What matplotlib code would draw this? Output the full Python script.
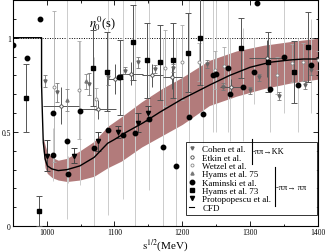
import matplotlib
matplotlib.use("Agg")
import matplotlib.pyplot as plt
from matplotlib.lines import Line2D
import numpy as np

plt.rcParams['font.family'] = ['Liberation Serif', 'DejaVu Serif']
plt.rcParams['mathtext.fontset'] = 'stix'

# ---------------- data ----------------
# CFD curve and band
cfd_x = [950, 992.5, 992.5, 993.5, 995, 997.7, 1001, 1007.6, 1017, 1030, 1049, 1070, 1090, 1100,
         1118, 1143, 1167, 1200, 1222, 1241, 1270, 1300, 1330, 1359, 1379, 1400]
cfd_y = [1.0, 1.0, 0.75, 0.62, 0.445, 0.357, 0.32, 0.304, 0.295, 0.30, 0.32, 0.365, 0.44, 0.46,
         0.50, 0.55, 0.605, 0.675, 0.715, 0.75, 0.80, 0.843, 0.87, 0.882, 0.887, 0.887]
band_x = [995, 997.7, 1001, 1008, 1017, 1030, 1049, 1070, 1090, 1110, 1140, 1170, 1200, 1240,
          1280, 1320, 1360, 1400]
band_lo = [0.40, 0.31, 0.28, 0.258, 0.245, 0.237, 0.245, 0.265, 0.31, 0.345, 0.42, 0.48, 0.54,
           0.64, 0.69, 0.73, 0.76, 0.78]
band_hi = [0.47, 0.43, 0.39, 0.365, 0.35, 0.36, 0.40, 0.45, 0.53, 0.58, 0.66, 0.73, 0.79,
           0.88, 0.93, 0.96, 0.98, 0.997]

# Kaminski et al. (value, lower bound, upper bound)
kam_x = [950, 971, 990, 1009, 1010, 1030, 1031, 1049, 1070, 1090, 1107, 1112, 1131, 1151, 1171,
         1191, 1210, 1230, 1246, 1250, 1267, 1271, 1290, 1306, 1310, 1330, 1350, 1371, 1390]
kam_y = [0.96, 0.89, 1.10, 0.38, 0.60, 0.45, 0.275, 0.61, 0.415, 0.51, 0.79, 0.486, 0.495, 0.57,
         0.42, 0.32, 0.58, 0.595, 0.80, 0.81, 0.84, 0.70, 0.737, 0.817, 1.185, 0.73, 0.895, 0.75, 0.857]
kam_lo = [0.96, 0.89, 1.10, 0.24, 0.60, 0.04, 0.23, 0.22, 0.0, 0.06, 0.79, 0.145, 0.0, 0.19,
          0.0, 0.0, 0.2, 0.3, 0.5, 0.5, 0.5, 0.45, 0.45, 0.65, 1.185, 0.5, 0.6, 0.5, 0.6]
kam_hi = [0.96, 0.89, 1.10, 0.52, 0.60, 1.2, 0.375, 0.98, 0.9, 1.2, 0.79, 1.2, 1.2, 1.2,
          1.0, 1.0, 1.2, 1.2, 1.2, 1.2, 1.2, 1.0, 1.05, 1.0, 1.185, 1.0, 1.2, 1.0, 1.1]

# Hyams et al. 73
h73_x = [970, 989, 1069, 1089, 1108, 1128, 1148, 1167, 1187, 1208, 1226, 1286, 1326, 1365, 1385]
h73_y = [0.68, 0.08, 0.84, 0.82, 0.79, 0.976, 0.88, 0.87, 0.88, 0.92, 1.0, 0.946, 0.87, 0.82, 0.95]
h73_e = [0.18, 0.08, 0.20, 0.21, 0.20, 0.20, 0.20, 0.20, 0.20, 0.21, 0.25, 0.16, 0.16, 0.165, 0.185]

# Protopopescu et al.
pro_x = [1000, 1041, 1075, 1105, 1135, 1150]
pro_y = [0.375, 0.375, 0.45, 0.50, 0.55, 0.60]
pro_e = [0.08, 0.04, 0.05, 0.03, 0.05, 0.04]

# Cohen et al.
coh_x = [998, 1016, 1062, 1090, 1116, 1135, 1160, 1186, 1237, 1260, 1300, 1313, 1342, 1381, 1390]
coh_y = [0.77, 0.71, 0.755, 0.79, 0.825, 0.87, 0.835, 0.84, 0.86, 0.74, 0.72, 0.79, 0.69, 0.75, 0.83]
coh_e = [0.03, 0.05, 0.06, 0.04, 0.02, 0.03, 0.02, 0.02, 0.02, 0.02, 0.02, 0.02, 0.02, 0.02, 0.03]

# Etkin et al. (with energy bins)
etk_x = [1021, 1076, 1101, 1125, 1156, 1185, 1272, 1325]
etk_y = [0.64, 0.62, 0.78, 0.81, 0.80, 0.79, 0.74, 0.89]
etk_xe = [26, 27, 12, 17, 15, 14, 17, 27]
etk_e = [0.10, 0.05, 0.08, 0.06, 0.06, 0.06, 0.04, 0.10]

# Wetzel et al.
wet_x = [1011, 1048, 1073, 1174, 1199, 1224, 1249, 1262, 1340, 1362, 1378, 1400]
wet_y = [0.74, 0.72, 0.675, 0.84, 0.87, 0.87, 0.83, 0.85, 0.80, 0.865, 0.87, 0.88]
wet_e = [0.40, 0.26, 0.06, 0.20, 0.20, 0.10, 0.10, 0.10, 0.10, 0.10, 0.10, 0.05]

# Hyams et al. 75
h75_x = [1030, 1058]
h75_y = [0.67, 0.77]
h75_e = [0.06, 0.04]

legend_labels = ['Cohen et al.', 'Etkin et al.', 'Wetzel et al.', 'Hyams et al. 75',
                 'Kaminski et al.', 'Hyams et al. 73', 'Protopopescu et al.', 'CFD']

# ---------------- figure ----------------
fig = plt.figure(figsize=(3.27, 2.53), dpi=100)
ax = fig.add_axes([0.039, 0.102, 0.933, 0.894])

band_color = '#b27b7b'
ax.fill_between(band_x, band_lo, band_hi, color=band_color, lw=0, zorder=1)
ax.axhline(1.0, color='black', lw=0.7, ls=(0, (1, 1.5)), zorder=2)

kx = np.array(kam_x); ky = np.array(kam_y)
ax.errorbar(kx, ky, yerr=[ky - np.array(kam_lo), np.array(kam_hi) - ky], fmt='none',
            ecolor='#cccccc', elinewidth=0.7, zorder=2)
ax.errorbar(wet_x, wet_y, yerr=wet_e, fmt='none', ecolor='#aaaaaa', elinewidth=0.6,
            capsize=1.5, capthick=0.6, zorder=3)
ax.errorbar(h73_x, h73_y, yerr=h73_e, fmt='none', ecolor='#555555', elinewidth=0.7,
            capsize=2, capthick=0.7, zorder=3)
ax.errorbar(etk_x, etk_y, xerr=etk_xe, yerr=etk_e, fmt='none', ecolor='#555555', elinewidth=0.7,
            capsize=0, zorder=3)
ax.errorbar(coh_x, coh_y, yerr=coh_e, fmt='none', ecolor='#777777', elinewidth=0.6,
            capsize=1.5, capthick=0.6, zorder=3)
ax.errorbar(pro_x, pro_y, yerr=pro_e, fmt='none', ecolor='#444444', elinewidth=0.7,
            capsize=2, capthick=0.7, zorder=3)
ax.errorbar(h75_x, h75_y, yerr=h75_e, fmt='none', ecolor='#888888', elinewidth=0.6,
            capsize=1.5, capthick=0.6, zorder=3)

ax.plot(cfd_x, cfd_y, color='black', lw=1.0, zorder=4)

ax.plot(coh_x, coh_y, 'v', color='#666666', ms=2.2, zorder=5)
ax.plot(etk_x, etk_y, 'o', mfc='white', mec='#444444', mew=0.6, ms=2.4, zorder=5)
ax.plot(wet_x, wet_y, 'o', mfc='white', mec='#888888', mew=0.6, ms=2.2, zorder=5)
ax.plot(h75_x, h75_y, '^', color='#777777', ms=2.2, zorder=5)
ax.plot(kam_x, kam_y, 'o', color='black', ms=3.2, zorder=6)
ax.plot(h73_x, h73_y, 's', color='black', ms=3.0, zorder=6)
ax.plot(pro_x, pro_y, 'v', color='black', ms=3.0, zorder=6)

ax.set_xlim(950, 1400)
ax.set_ylim(0, 1.2)
ax.set_xticks([1000, 1100, 1200, 1300, 1400])
ax.set_xticks(np.arange(950, 1401, 50), minor=True)
ax.set_yticks([0, 0.5, 1])
ax.set_yticklabels(['0', '0.5', '1'])
ax.set_yticks(np.arange(0, 1.21, 0.1), minor=True)
ax.tick_params(which='both', direction='in', top=True, right=True, labelsize=5.5, pad=1.5,
               width=0.6)
ax.tick_params(which='major', length=3.5)
ax.tick_params(which='minor', length=1.8)
for s in ax.spines.values():
    s.set_linewidth(0.8)

ax.set_xlabel(r'$\mathrm{s}^{1/2}$(MeV)', fontsize=8, labelpad=0)
ax.text(1082, 1.08, r'$\eta_0^{\,0}$(s)', fontsize=9, ha='center', va='center')

handles = [
    Line2D([], [], ls='none', marker='v', color='#666666', ms=2.2),
    Line2D([], [], ls='none', marker='o', mfc='white', mec='#444444', mew=0.6, ms=2.4),
    Line2D([], [], ls='none', marker='o', mfc='white', mec='#888888', mew=0.6, ms=2.2),
    Line2D([], [], ls='none', marker='^', color='#777777', ms=2.2),
    Line2D([], [], ls='none', marker='o', color='black', ms=3.2),
    Line2D([], [], ls='none', marker='s', color='black', ms=3.0),
    Line2D([], [], ls='none', marker='v', color='black', ms=3.0),
    Line2D([], [], color='black', lw=0.8),
]
leg = ax.legend(handles, legend_labels, loc='lower left', bbox_to_anchor=(0.567, 0.05, 0.43, 0.34),
                mode='expand', fontsize=6.5, labelspacing=0.0, handlelength=0.6,
                handletextpad=0.9, borderpad=0.35, borderaxespad=0, fancybox=False,
                frameon=True, edgecolor='black')
leg.get_frame().set_linewidth(0.7)
leg.set_zorder(10)

# process brackets
ax.plot([0.784, 0.784], [0.274, 0.386], transform=ax.transAxes, color='black', lw=0.8, zorder=11)
ax.text(0.786, 0.333, '-ππ→KK', transform=ax.transAxes, fontsize=6, va='center', ha='left',
        zorder=11)
ax.plot([0.861, 0.861], [0.09, 0.263], transform=ax.transAxes, color='black', lw=0.8, zorder=11)
ax.text(0.863, 0.175, '-ππ→ ππ', transform=ax.transAxes, fontsize=6, va='center', ha='left',
        zorder=11)

fig.savefig('out.png', dpi=100)
